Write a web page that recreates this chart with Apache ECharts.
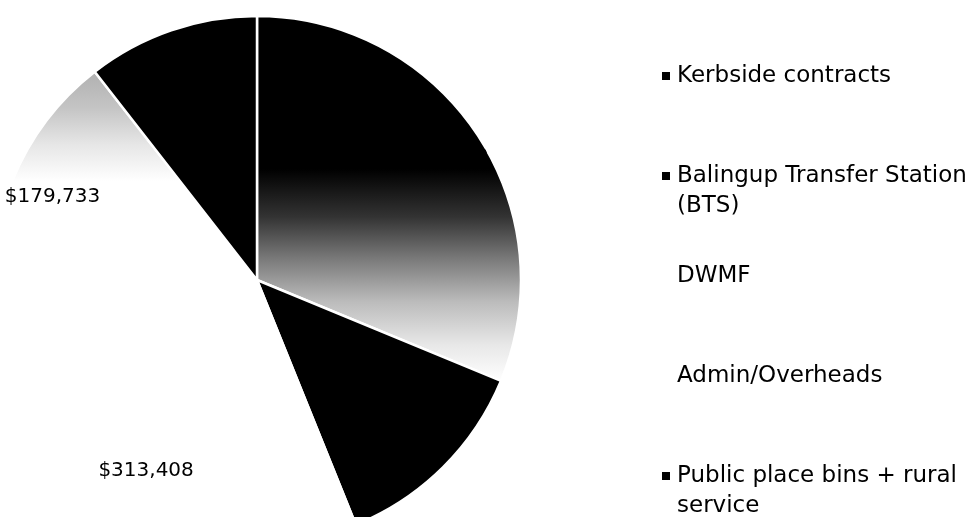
<!DOCTYPE html>
<html>
<head>
<meta charset="utf-8">
<script src="https://cdn.jsdelivr.net/npm/echarts@6/dist/echarts.min.js"></script>
<style>
html,body{margin:0;padding:0;background:#fff;}
#chart{width:979px;height:517px;}
</style>
</head>
<body>
<div id="chart"></div>
<script>
// ---- data ----
var categories = ['Kerbside contracts', 'Balingup Transfer Station (BTS)', 'DWMF', 'Admin/Overheads', 'Public place bins + rural service'];
var values = [338000, 137000, 313408, 179733, 114000];

// ---- styles ----
var FONT = 'DejaVu Sans';
var LEGEND_FONT_SIZE = 23;
var LEGEND_MAX_W = 298;
var kerbFill = new echarts.graphic.LinearGradient(0, 0, 0, 1, [
  {offset: 0, color: '#000'}, {offset: 0.42, color: '#000'},
  {offset: 0.55, color: '#333'}, {offset: 0.66, color: '#777'},
  {offset: 0.78, color: '#bbb'}, {offset: 0.9, color: '#e8e8e8'},
  {offset: 1, color: '#fff'}]);
var adminFill = new echarts.graphic.LinearGradient(0, 0, 0, 1, [
  {offset: 0, color: '#b0b0b0'}, {offset: 0.15, color: '#c4c4c4'},
  {offset: 0.3, color: '#e6e6e6'}, {offset: 0.45, color: '#fff'},
  {offset: 1, color: '#fff'}]);
var fills = [kerbFill, '#000', '#fff', adminFill, '#000'];
var legendIconColors = ['#000', '#000', '#fff', '#fff', '#000'];

// word wrap at spaces using canvas text measurement
var measureCtx = document.createElement('canvas').getContext('2d');
measureCtx.font = LEGEND_FONT_SIZE + 'px "' + FONT + '"';
function wrap(text) {
  var words = text.split(' '), lines = [], cur = '';
  words.forEach(function (w) {
    var t = cur ? cur + ' ' + w : w;
    if (cur && measureCtx.measureText(t).width > LEGEND_MAX_W) { lines.push(cur); cur = w; }
    else cur = t;
  });
  if (cur) lines.push(cur);
  return lines.join('\n');
}

var pieData = categories.map(function (n, i) {
  return {name: n, value: values[i], itemStyle: {color: fills[i]}};
});
var labelData = categories.map(function (n, i) {
  return {name: n, value: values[i]};
});

var CX = 257, CY = 280, R = 264;
var squareIcon = 'path://M0,0L8,0L8,8L0,8Z';
var tallIcon = 'path://M0,0L8,0L8,8L0,8Z M0,38L0.01,38';
var legendTops = [56, 156, 256, 356, 456];

var legends = categories.map(function (n, i) {
  var twoLine = wrap(n).indexOf('\n') >= 0;
  return {
    orient: 'vertical',
    left: 657,
    top: legendTops[i],
    data: [{name: n, itemStyle: {color: legendIconColors[i], borderWidth: 0}}],
    formatter: wrap,
    icon: twoLine ? tallIcon : squareIcon,
    itemWidth: 8,
    itemHeight: twoLine ? 38 : 8,
    itemStyle: {borderWidth: 0},
    selectedMode: false,
    textStyle: {
      fontFamily: FONT, fontSize: LEGEND_FONT_SIZE, color: '#000', lineHeight: 30,
      padding: [0, 0, 0, 2]
    }
  };
});

var chart = echarts.init(document.getElementById('chart'), null, {renderer: 'canvas'});
chart.setOption({
  backgroundColor: '#fff',
  animation: false,
  legend: legends,
  series: [
    {
      type: 'pie',
      center: [CX, CY],
      radius: [0, R],
      startAngle: 90,
      clockwise: true,
      avoidLabelOverlap: false,
      silent: true,
      label: {show: false},
      labelLine: {show: false},
      itemStyle: {borderColor: '#fff', borderWidth: 2.5},
      emphasis: {disabled: true},
      data: pieData
    },
    {
      type: 'pie',
      center: [CX, CY],
      radius: [R * 0.65, R],
      startAngle: 90,
      clockwise: true,
      avoidLabelOverlap: false,
      silent: true,
      itemStyle: {color: 'rgba(0,0,0,0)', borderWidth: 0},
      labelLine: {show: false},
      emphasis: {disabled: true},
      label: {
        show: true,
        position: 'inside',
        color: '#000',
        fontFamily: FONT,
        fontSize: 20,
        formatter: function (p) { return '$' + p.value.toLocaleString('en-US'); }
      },
      data: labelData
    }
  ]
});
</script>
</body>
</html>
